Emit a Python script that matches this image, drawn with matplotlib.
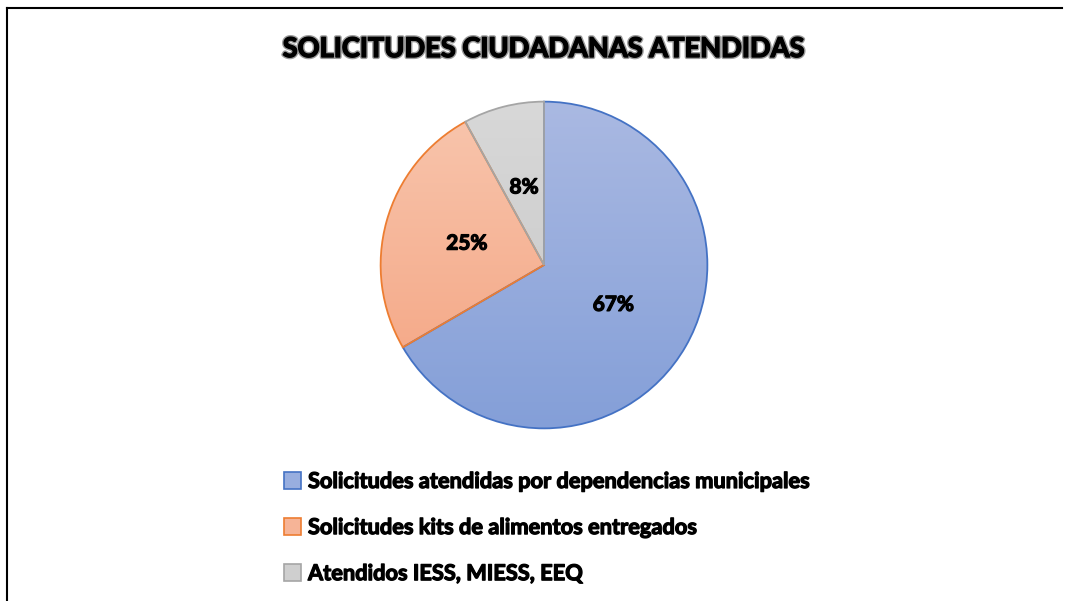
import numpy as np
import matplotlib
matplotlib.use("Agg")
import matplotlib.pyplot as plt
import matplotlib.patheffects as pe
from matplotlib.patches import Rectangle
from matplotlib.colors import LinearSegmentedColormap
from matplotlib.lines import Line2D

title = "SOLICITUDES CIUDADANAS ATENDIDAS"
categories = [
    "Solicitudes atendidas por dependencias municipales",
    "Solicitudes kits de alimentos entregados",
    "Atendidos IESS, MIESS, EEQ",
]
values = [66.6, 25.4, 8.0]
grad_top = ["#AAB9E2", "#F8C6AE", "#D8D8D8"]
grad_bot = ["#849FD8", "#F4A27F", "#C6C6C6"]
edge_colors = ["#4472C4", "#ED7D31", "#A5A5A5"]
legend_face = ["#98AEDF", "#F6B497", "#CFCFCF"]

FONT = "Lato"
thick = [pe.withStroke(linewidth=0.9, foreground="black")]

fig = plt.figure(figsize=(10.70, 6.01), dpi=100)
fig.patch.set_facecolor("white")

# border lines (top and left)
fig.add_artist(Line2D([7/1070, 1062/1070], [1 - 8/601, 1 - 8/601], color="black", lw=1.5))
fig.add_artist(Line2D([7/1070, 7/1070], [1 - 8/601, 0], color="black", lw=1.5))

ax = fig.add_axes([379/1070, (601-430)/601, 330/1070, 330/601])
wedges, texts, autotexts = ax.pie(
    values, startangle=90, counterclock=False, autopct="%.0f%%",
    pctdistance=0.49, radius=1.0,
    wedgeprops=dict(linewidth=1.3),
    textprops=dict(fontsize=15, fontweight="bold", family=FONT, color="black"),
)
ax.set_xlim(-1.01, 1.01)
ax.set_ylim(-1.01, 1.01)
ax.set_aspect("equal", adjustable="box")
ax.axis("off")

for w, top, bot, ec in zip(wedges, grad_top, grad_bot, edge_colors):
    w.set_facecolor("none")
    w.set_edgecolor(ec)
    w.set_zorder(3)
    cmap = LinearSegmentedColormap.from_list("g", [bot, top])
    grad = np.linspace(0, 1, 256).reshape(-1, 1)
    im = ax.imshow(grad, cmap=cmap, extent=(-1, 1, -1, 1), origin="lower",
                   aspect="auto", zorder=1)
    im.set_clip_path(w)
for t in autotexts:
    t.set_zorder(5)
    t.set_path_effects(thick)

# Title
fig.text(544/1070, 1 - 49/601, title, ha="center", va="center",
         fontsize=19.6, fontweight="bold", family=FONT, color="black",
         path_effects=[pe.withStroke(linewidth=3, foreground="#9a9a9a"),
                       pe.withStroke(linewidth=1.0, foreground="black")])

# Legend
handles = [Rectangle((0, 0), 1, 1, facecolor=fc, edgecolor=ec, linewidth=1.2)
           for fc, ec in zip(legend_face, edge_colors)]
leg = fig.legend(handles, categories, loc="upper left",
                 bbox_to_anchor=(284/1070, 1 - 471/601), frameon=False,
                 prop=dict(family=FONT, weight="bold", size=15.7),
                 handlelength=0.8, handleheight=0.8, handletextpad=0.3,
                 labelspacing=1.15, borderaxespad=0, borderpad=0)
for t in leg.get_texts():
    t.set_path_effects(thick)

fig.savefig("out.png", dpi=100, facecolor="white")
